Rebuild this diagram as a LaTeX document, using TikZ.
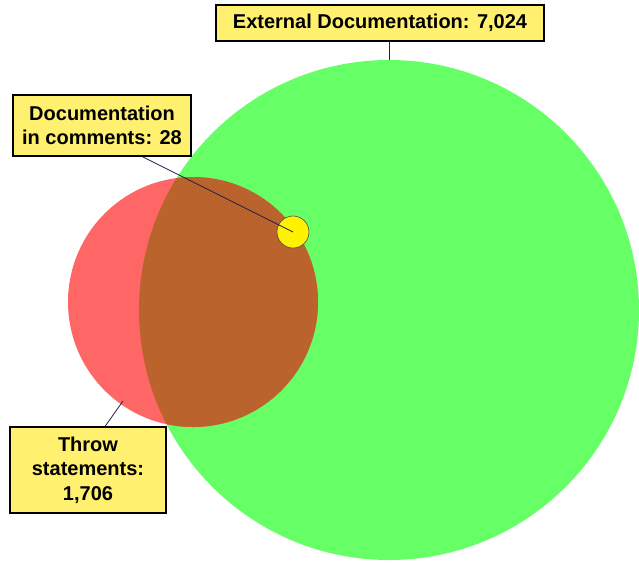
\documentclass[tikz,border=0pt]{standalone}
\usepackage{fontspec}
\setmainfont{Liberation Sans}
\begin{document}
\begin{tikzpicture}[x=1pt,y=-1pt,
  lbl/.style={draw=black,line width=2pt,fill=labelyellow,font=\bfseries\fontsize{20}{24.5}\selectfont,align=center,inner sep=0pt},
  conn/.style={draw=linenavy,line width=0.8pt}]
\definecolor{labelyellow}{RGB}{255,240,112}
\definecolor{greenc}{RGB}{102,255,102}
\definecolor{redc}{RGB}{255,102,102}
\definecolor{brownc}{RGB}{187,99,45}
\definecolor{linenavy}{RGB}{30,30,80}
\useasboundingbox (0,0) rectangle (639,563);
% circles
\fill[greenc] (389,310) circle (250);
\fill[redc] (193,302) circle (125);
\begin{scope}
  \clip (389,310) circle (250);
  \fill[brownc] (193,302) circle (125);
\end{scope}
\node[circle,draw=black!70,line width=0.6pt,fill=yellow,minimum size=32pt,inner sep=0pt] (doc) at (293,232) {};
\coordinate (gtop) at (389,60);
\coordinate (rbot) at (123,401);
% labels
\node[lbl,minimum width=328pt,minimum height=36pt] (ext) at (380,23) {External Documentation: 7,024};
\node[lbl,minimum width=178pt,minimum height=61pt] (com) at (102,125.5) {Documentation\\in comments: 28};
\node[lbl,minimum width=156pt,minimum height=86pt] (thr) at (88,470) {Throw\\statements:\\1,706};
% connectors
\draw[conn] (ext.south -| gtop) -- (gtop);
\draw[conn] (142,156.5) -- (doc.center);
\draw[conn] (105,426.5) -- (rbot);
\end{tikzpicture}
\end{document}
